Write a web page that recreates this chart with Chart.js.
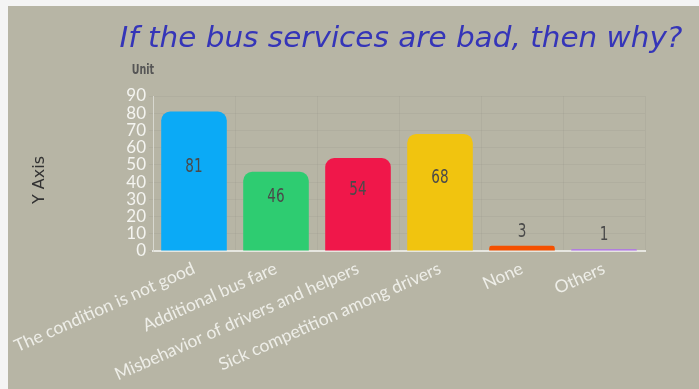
<!DOCTYPE html>
<html>
<head>
<meta charset="utf-8">
<script src="https://cdn.jsdelivr.net/npm/chart.js@4"></script>
<style>
  html, body { margin: 0; padding: 0; background: #f4f4f4; }
  #wrap { position: absolute; left: 8px; top: 6px; width: 691px; height: 383px; background: #b7b5a5; }
</style>
</head>
<body>
<div id="wrap"><canvas id="busChart"></canvas></div>
<script>
// chart data
const categories = [
    'The condition is not good',
    'Additional bus fare',
    'Misbehavior of drivers and helpers',
    'Sick competition among drivers',
    'None',
    'Others'
];
const counts = [81, 46, 54, 68, 3, 1];
const barColors = ['#0baaf6', '#2ecc71', '#f0174a', '#f1c40f', '#f45000', '#b06cf0'];
const yTicks = [0, 10, 20, 30, 40, 50, 60, 70, 80, 90];

const chartTitle = 'If the bus services are bad, then why?';
const unitLabel = 'Unit';
const yAxisLabel = 'Y Axis';

// draw narrow text by squeezing it horizontally
function squeezedText(ctx, text, x, y, sx) {
    ctx.save();
    ctx.translate(x, y);
    ctx.scale(sx, 1);
    ctx.fillText(text, 0, 0);
    ctx.restore();
}

// draws the values on/above bars plus the free text (title, unit, y axis)
const decorPlugin = {
    id: 'decor',
    afterDatasetsDraw(chart) {
        const ctx = chart.ctx;
        const meta = chart.getDatasetMeta(0);
        ctx.save();
        ctx.fillStyle = '#4a4a4a';
        ctx.font = '20px "DejaVu Sans", sans-serif';
        ctx.textAlign = 'center';
        ctx.textBaseline = 'middle';
        meta.data.forEach((bar, i) => {
            const h = bar.base - bar.y;
            const y = h > 30 ? (bar.y + bar.base) / 2 - 14 : bar.y - 14;
            squeezedText(ctx, String(counts[i]), bar.x, y, 0.68);
        });
        ctx.restore();
    },
    afterDraw(chart) {
        const ctx = chart.ctx;
        ctx.save();
        // title
        ctx.fillStyle = '#3535b8';
        ctx.font = 'italic 28px "DejaVu Sans", sans-serif';
        ctx.textAlign = 'center';
        ctx.textBaseline = 'middle';
        const tw = ctx.measureText(chartTitle).width;
        squeezedText(ctx, chartTitle, 393, 34, 563 / tw);
        // unit
        ctx.fillStyle = '#555';
        ctx.font = 'bold 14px "DejaVu Sans", sans-serif';
        squeezedText(ctx, unitLabel, 135, 64, 0.68);
        // y axis label
        ctx.translate(32, 174);
        ctx.rotate(-Math.PI / 2);
        ctx.fillStyle = '#333';
        ctx.font = '16px "DejaVu Sans", sans-serif';
        ctx.fillText(yAxisLabel, 0, 0);
        ctx.restore();
    }
};

new Chart(document.getElementById('busChart').getContext('2d'), {
    type: 'bar',
    data: {
        labels: categories,
        datasets: [{
            data: counts,
            backgroundColor: barColors,
            borderRadius: { topLeft: 9, topRight: 9 },
            borderSkipped: 'start',
            barPercentage: 0.8,
            categoryPercentage: 1
        }]
    },
    options: {
        responsive: true,
        maintainAspectRatio: false,
        animation: false,
        layout: { padding: { left: 0, right: 54, top: 90, bottom: 0 } },
        plugins: {
            legend: { display: false },
            tooltip: { enabled: false }
        },
        scales: {
            x: {
                // fixed height, and let the long rotated labels run off the left edge
                afterFit: scale => {
                    scale.height = 138;
                    scale.paddingLeft = 0;
                    scale.paddingRight = 0;
                },
                grid: { color: 'rgba(0,0,0,0.035)', drawTicks: false },
                border: { color: '#e6e6e0', width: 2 },
                ticks: {
                    color: '#eeeee8',
                    font: { family: 'Lato, sans-serif', size: 17.5 },
                    minRotation: 24,
                    maxRotation: 24,
                    padding: 7
                }
            },
            y: {
                min: 0,
                max: 90,
                afterFit: scale => { scale.width = 145; },
                afterBuildTicks: scale => { scale.ticks = yTicks.map(v => ({ value: v })); },
                grid: { color: 'rgba(0,0,0,0.035)', tickLength: 4 },
                border: { color: '#d8d8d0', width: 1 },
                ticks: {
                    autoSkip: false,
                    color: '#f4f4f0',
                    font: { family: 'Lato, sans-serif', size: 17, lineHeight: 1 },
                    padding: 3
                }
            }
        }
    },
    plugins: [decorPlugin]
});
</script>
</body>
</html>
